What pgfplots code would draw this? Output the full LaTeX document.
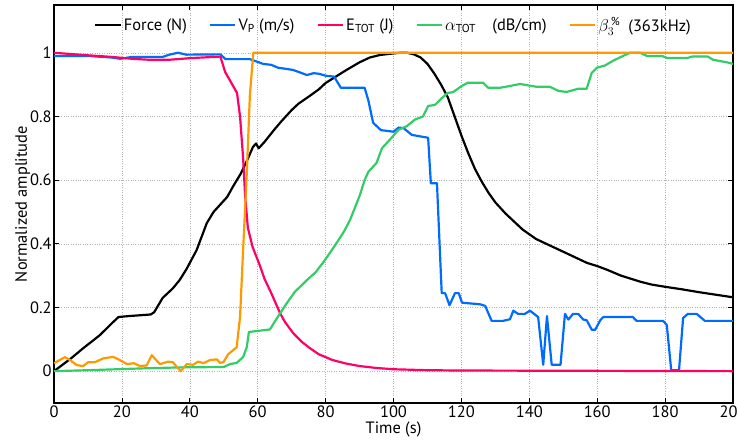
\documentclass[border=0pt]{standalone}
\usepackage{fontspec}
\setmainfont{PT Sans}
\usepackage{pgfplots}
\pgfplotsset{compat=1.18}

\definecolor{cforce}{RGB}{0,0,0}
\definecolor{cvp}{RGB}{0,108,255}
\definecolor{cetot}{RGB}{255,0,102}
\definecolor{calpha}{RGB}{51,204,102}
\definecolor{cbeta}{RGB}{255,153,0}

\begin{document}
\begin{tikzpicture}
\begin{axis}[
    scale only axis,
    width=679bp, height=398bp,
    xmin=0, xmax=200, ymin=-0.1, ymax=1.15,
    xtick={0,20,...,200},
    ytick={0,0.2,0.4,0.6,0.8,1},
    tick pos=both, tick align=inside,
    major tick length=5bp,
    grid=major,
    grid style={dotted, gray!60, line width=0.5pt},
    axis line style={line width=1.2pt},
    tick style={black, line width=0.8pt},
    /pgf/number format/assume math mode=true,
    tick label style={font=\fontsize{16.5}{18}\selectfont},
    xticklabel style={yshift=1bp},
    yticklabel style={xshift=1bp},
    label style={font=\fontsize{16.5}{18}\selectfont},
    xlabel={Time (s)},
    ylabel={Normalized amplitude},
    xlabel style={yshift=2bp},
    ylabel style={yshift=-7bp},
    legend columns=5,
    legend style={at={(0.5,0.98)}, anchor=north, draw=none, fill=none,
        font=\fontsize{16.5}{18}\selectfont,
        /tikz/every even column/.append style={column sep=20bp}},
    legend image code/.code={\draw[#1] (0cm,0cm) -- (0.9cm,0cm);},
    every axis plot/.append style={line width=2.2pt, line join=round},
]

\addplot[cforce] coordinates {
(0,0) (5,0.04) (8.6,0.072) (13.5,0.113) (17,0.15) (19,0.17) (22,0.173) (28.5,0.178)
(29.5,0.185) (32,0.23) (35,0.26) (37,0.286) (39,0.32) (42,0.38) (45,0.465) (47,0.50)
(51,0.547) (53,0.585) (55,0.62) (57,0.665) (58.6,0.704) (59.5,0.715) (60.3,0.70)
(62,0.72) (65,0.76) (67,0.785) (70,0.82) (72,0.84) (75,0.862) (78,0.885) (80,0.905)
(83,0.925) (86,0.945) (90,0.97) (93,0.985) (96,0.993) (100,0.998) (102,1.0) (104,1.0)
(106,0.995) (108,0.985) (110,0.965) (112,0.935) (114,0.90) (116,0.86) (118,0.80)
(120,0.74) (122,0.685) (124,0.635) (126,0.595) (128,0.56) (130,0.53) (133,0.495)
(136,0.465) (138,0.445) (142,0.415) (146,0.395) (150,0.375) (153,0.36) (157,0.34)
(160,0.33) (163,0.318) (167,0.30) (170,0.29) (173,0.28) (176,0.272) (180,0.265)
(185,0.257) (190,0.248) (195,0.24) (200,0.232)
};
\addlegendentry{Force (N)}

\addplot[cvp] coordinates {
(0,0.99) (10,0.99) (17,0.985) (19.5,0.981) (23,0.987) (32,0.987) (34,0.994) (36.5,1.0)
(39,0.994) (49,0.995) (50.5,0.98) (57.7,0.98) (59.8,0.972) (61.6,0.965) (64,0.962)
(66,0.953) (68,0.95) (70.4,0.946) (72,0.94) (74.5,0.93) (76.5,0.936) (78,0.934)
(80,0.928) (82.5,0.925) (84.5,0.89) (91.5,0.89) (92.6,0.85) (94,0.78) (96.3,0.757)
(100,0.752) (101.5,0.765) (103,0.763) (105.4,0.742) (110.2,0.733) (111,0.59)
(112.8,0.59) (114.2,0.245) (115.2,0.245) (116.5,0.207) (118.1,0.245) (119.2,0.245)
(120.2,0.215) (125.5,0.21) (127,0.205) (128.9,0.158) (132.3,0.158) (134.3,0.163)
(135.3,0.19) (136.7,0.18) (138.7,0.18) (140.2,0.19) (142.6,0.17) (144.1,0.02)
(145.2,0.173) (146.6,0.02) (149.2,0.02) (150.5,0.18) (151.5,0.162) (152.9,0.18)
(154.4,0.18) (155.9,0.162) (156.9,0.16) (158.4,0.13) (159.4,0.13) (160.9,0.16)
(161.8,0.17) (165.7,0.17) (170.5,0.17) (171.6,0.158) (179.4,0.158) (180.5,0.145)
(181.8,0.003) (184.1,0.003) (185.3,0.167) (186.7,0.18) (189.3,0.18) (191.7,0.158)
(200,0.158)
};
\addlegendentry{V\textsubscript{P} (m/s)}

\addplot[cetot] coordinates {
(0,1.0) (10,0.992) (17,0.987) (23,0.981) (28,0.978) (34,0.978) (40,0.983) (49,0.988)
(50.4,0.94) (53.9,0.874) (54.8,0.80) (55.7,0.67) (56.3,0.55) (57.1,0.45) (58.5,0.39)
(60.7,0.33) (62,0.29) (64,0.245) (66.6,0.182) (68,0.155) (70.4,0.12) (73,0.092)
(75.4,0.072) (78,0.053) (82,0.035) (86,0.024) (90,0.016) (95,0.01) (100,0.006)
(110,0.003) (120,0.002) (200,0.0)
};
\addlegendentry{E\textsubscript{TOT} (J)}

\addplot[calpha] coordinates {
(0,0.0) (10,0.003) (18.5,0.006) (27,0.009) (38,0.012) (50,0.013) (51.8,0.022)
(53.8,0.026) (55.7,0.044) (56.8,0.076) (57.4,0.123) (59.7,0.126) (63.6,0.131)
(66.6,0.182) (69,0.22) (71,0.25) (73,0.27) (74.5,0.286) (77,0.31) (79.2,0.34)
(81.5,0.375) (83.7,0.41) (85.5,0.44) (87.2,0.475) (88.7,0.515) (90.1,0.553)
(91.5,0.6) (92.6,0.626) (95,0.654) (96.6,0.70) (99,0.728) (101.5,0.758) (104,0.77)
(106.3,0.79) (108.7,0.80) (110.2,0.833) (112.2,0.836) (114.3,0.858) (116,0.874)
(117.5,0.876) (120,0.895) (121.9,0.906) (126.4,0.906) (127.9,0.89) (131.4,0.89)
(134,0.895) (137.3,0.902) (140,0.897) (142.2,0.893) (146.1,0.893) (148.6,0.88)
(151,0.877) (154.4,0.887) (156.9,0.887) (158.4,0.937) (159.9,0.953) (162.3,0.96)
(164.7,0.975) (167.6,0.99) (169.7,1.0) (172.6,1.0) (174.6,0.99) (179.1,0.99)
(180.5,0.984) (186.7,0.984) (187.9,0.988) (192.6,0.988) (194.1,0.978) (198.2,0.97)
(200,0.965)
};
\addlegendentry{$\alpha$\textsubscript{TOT}\quad(dB/cm)\hspace{20bp}}

\addplot[cbeta] coordinates {
(0,0.025) (3.2,0.044) (4.7,0.035) (6.7,0.019) (8.6,0.016) (10,0.028) (12,0.028)
(14.5,0.04) (17.4,0.045) (19.4,0.035) (21.5,0.022) (23.5,0.025) (25.3,0.016)
(27.3,0.018) (28.8,0.05) (31.2,0.022) (33.7,0.03) (35,0.028) (37.3,0.0) (39.1,0.022)
(41,0.02) (42.5,0.03) (44,0.025) (46,0.035) (48,0.037) (48.9,0.026) (49.9,0.028)
(51.3,0.053) (53.8,0.075) (54.8,0.17) (55.7,0.38) (56.8,0.626) (57.7,0.868)
(58.7,1.0) (200,1.0)
};
\addlegendentry{$\beta_{3}^{\,\%}$\enspace(363kHz)}

\end{axis}
\pgfresetboundingbox
\path (current axis.south west) ++(-54bp,-38bp) coordinate (bbl);
\path (current axis.north east) ++(4bp,5bp) coordinate (bbr);
\useasboundingbox (bbl) rectangle (bbr);
\end{tikzpicture}
\end{document}
